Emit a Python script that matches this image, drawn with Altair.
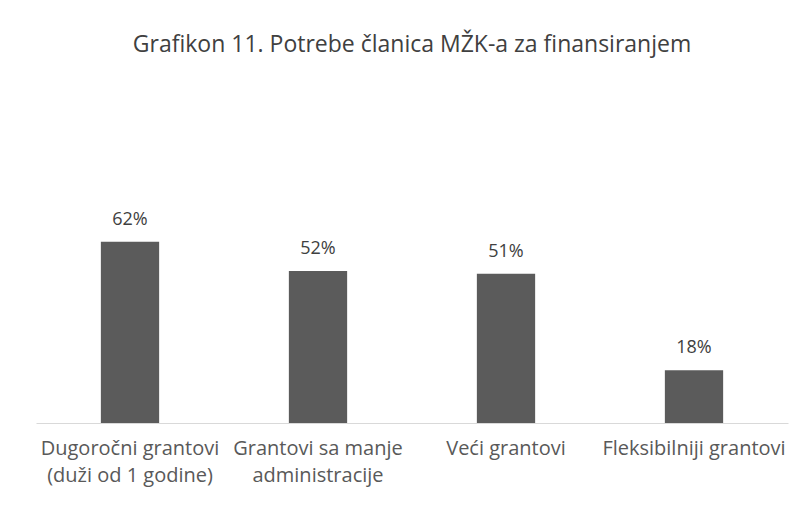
import altair as alt
import pandas as pd

categories = ["Dugoročni grantovi|(duži od 1 godine)", "Grantovi sa manje|administracije",
              "Veći grantovi", "Fleksibilniji grantovi"]
values = [62, 52, 51, 18]
labels = ["62%", "52%", "51%", "18%"]

df = pd.DataFrame({"cat": categories, "val": values, "lab": labels})

FONT = "Open Sans"
x = alt.X("cat:N", sort=categories, title=None,
          scale=alt.Scale(paddingInner=0.69, paddingOuter=0.345),
          axis=alt.Axis(labelExpr="split(datum.label, '|')", labelAngle=0,
                        labelFont=FONT, labelFontSize=20, labelColor="#595959",
                        labelLineHeight=27, labelPadding=15, ticks=False,
                        labelLimit=400, labelOverlap=False,
                        domainColor="#d9d9d9", domainWidth=1.2, labelBaseline="top"))
y = alt.Y("val:Q", scale=alt.Scale(domain=[0, 80]), axis=None)

bars = alt.Chart(df).mark_bar(color="#5b5b5b").encode(x=x, y=y)
text = alt.Chart(df).mark_text(baseline="bottom", dy=-13, font=FONT, fontSize=18,
                               color="#404040").encode(x=x, y=y, text="lab:N")

chart = (bars + text).properties(
    width=752, height=234,
    title=alt.TitleParams("Grafikon 11. Potrebe članica MŽK-a za finansiranjem",
                          font=FONT, fontSize=23, fontWeight="normal", color="#404040",
                          anchor="middle", offset=132),
    padding={"left": 28, "top": 181, "right": 7, "bottom": 74},
    autosize=alt.AutoSizeParams(type="none"),
).configure_view(stroke=None)

chart.save("out.html", embed_options={"renderer": "svg", "actions": False})
